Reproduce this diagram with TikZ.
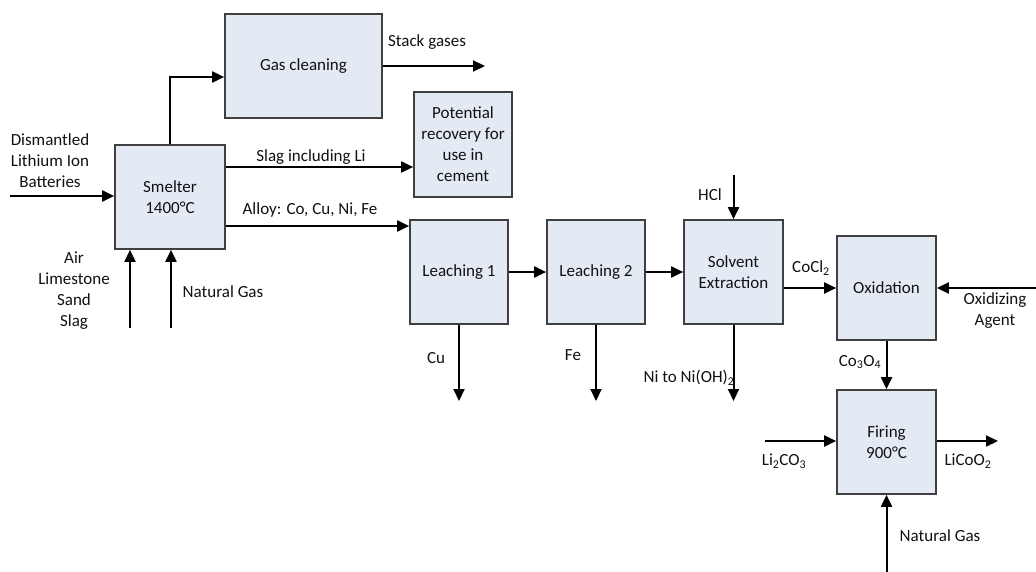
\documentclass[tikz,border=0pt]{standalone}
\usepackage{fontspec}
\setmainfont{Carlito}
\usetikzlibrary{arrows.meta}
\definecolor{boxfill}{HTML}{E4EAF4}
\definecolor{boxborder}{HTML}{404040}
\definecolor{txt}{HTML}{111111}
\begin{document}
\begin{tikzpicture}[x=1pt,y=-1pt,
  every node/.style={text=txt, font=\fontsize{17}{21}\selectfont},
  box/.style={draw=boxborder, fill=boxfill, line width=1.7pt, inner sep=0pt, align=center},
  flow/.style={line width=2pt, -{Triangle[length=12pt,width=11pt]}},
  lbl/.style={inner sep=0pt, align=center}]
\useasboundingbox (0,0) rectangle (1036,572);
% boxes
\node[box, minimum width=157pt, minimum height=104pt] (gas) at (303.5,66) {Gas cleaning};
\node[box, minimum width=98pt, minimum height=105pt] (recov) at (463,144.5) {Potential\\recovery for\\use in\\cement};
\node[box, minimum width=110pt, minimum height=104pt] (smelter) at (170,197) {Smelter\\1400°C};
\node[box, minimum width=98pt, minimum height=104pt] (leach1) at (459,272) {Leaching 1};
\node[box, minimum width=98pt, minimum height=104pt] (leach2) at (596,272) {Leaching 2};
\node[box, minimum width=99pt, minimum height=104pt] (se) at (733.5,272) {Solvent\\Extraction};
\node[box, minimum width=99pt, minimum height=104pt] (ox) at (886.5,288) {Oxidation};
\node[box, minimum width=99pt, minimum height=104pt] (fire) at (886.5,442) {Firing\\900°C};
% free ends
\coordinate (stackend) at (485,66);
\coordinate (din) at (10,196);
\coordinate (airin) at (130,328);
\coordinate (ngin) at (171,328);
\coordinate (cuout) at (459,401);
\coordinate (feout) at (596,401);
\coordinate (niout) at (733.5,401);
\coordinate (hclin) at (733.5,175);
\coordinate (oxin) at (1036,288);
\coordinate (liin) at (765,441);
\coordinate (licoout) at (998,441);
\coordinate (ng2in) at (886.5,572);
% connectors
\draw[flow] (smelter.north) |- (gas.west |- 0,77);
\draw[flow] (gas.east) -- (stackend);
\draw[flow] (smelter.east |- 0,167) -- (recov.west |- 0,167);
\draw[flow] (smelter.east |- 0,226) -- (leach1.west |- 0,226);
\draw[flow] (din) -- (smelter.west |- din);
\draw[flow] (airin) -- (airin |- smelter.south);
\draw[flow] (ngin) -- (ngin |- smelter.south);
\draw[flow] (leach1.east) -- (leach2.west);
\draw[flow] (leach2.east) -- (se.west);
\draw[flow] (leach1.south) -- (cuout);
\draw[flow] (leach2.south) -- (feout);
\draw[flow] (se.south) -- (niout);
\draw[flow] (hclin) -- (se.north);
\draw[flow] (se.east |- ox.west) -- (ox.west);
\draw[flow] (oxin) -- (ox.east);
\draw[flow] (ox.south) -- (fire.north);
\draw[flow] (liin) -- (fire.west |- liin);
\draw[flow] (fire.east |- licoout) -- (licoout);
\draw[flow] (ng2in) -- (fire.south);
% labels
\node[lbl] (lstack) at (427,42) {Stack gases};
\node[lbl] (lslag) at (311,157) {Slag including Li};
\node[lbl] (lalloy) at (310,210) {Alloy: Co, Cu, Ni, Fe};
\node[lbl] (ldis) at (50,161) {Dismantled\\Lithium Ion\\Batteries};
\node[lbl] (lair) at (74,291) {Air\\Limestone\\Sand\\Slag};
\node[lbl] (lng) at (223,292) {Natural Gas};
\node[lbl] (lcu) at (436,358) {Cu};
\node[lbl] (lfe) at (573,355) {Fe};
\node[lbl] (lni) at (689,378) {Ni to Ni(OH)\textsubscript{2}};
\node[lbl] (lhcl) at (710,195) {HCl};
\node[lbl] (lcocl) at (811,268) {CoCl\textsubscript{2}};
\node[lbl] (loxa) at (995,311) {Oxidizing\\Agent};
\node[lbl] (lco3) at (860,362) {Co\textsubscript{3}O\textsubscript{4}};
\node[lbl] (lli) at (784,461) {Li\textsubscript{2}CO\textsubscript{3}};
\node[lbl] (llico) at (968,461) {LiCoO\textsubscript{2}};
\node[lbl] (lng2) at (940,536) {Natural Gas};
\end{tikzpicture}
\end{document}
